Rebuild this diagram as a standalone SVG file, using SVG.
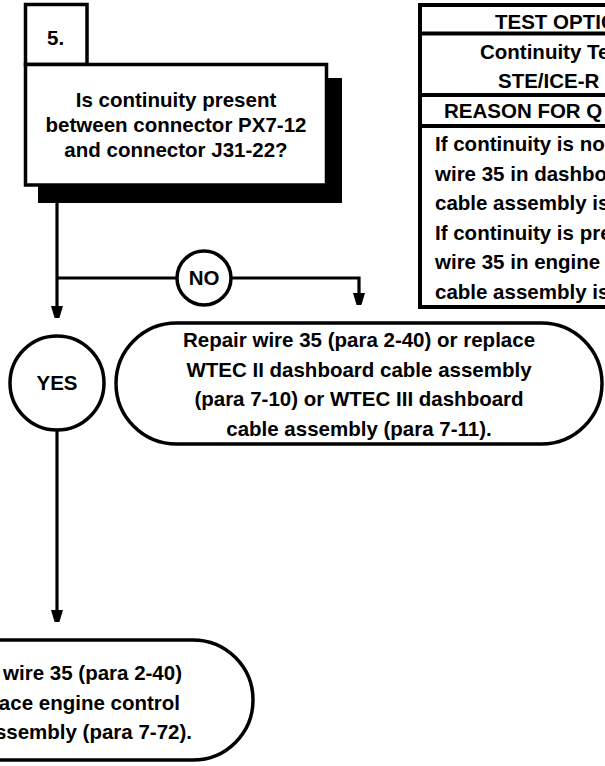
<svg xmlns="http://www.w3.org/2000/svg" width="605" height="766" viewBox="0 0 605 766">
<style>
  text { font-family: "Liberation Sans", Arial, Helvetica, sans-serif; font-weight: bold; font-size: 20.5px; fill: #000; }
  .c { text-anchor: middle; }
  .e { text-anchor: end; }
  .box { fill: #fff; stroke: #000; stroke-width: 3.5; }
  .line { fill: none; stroke: #000; stroke-width: 3.2; }
  .tbl { fill: none; stroke: #000; stroke-width: 4; }
</style>
<defs>
  <marker id="arr" markerUnits="userSpaceOnUse" markerWidth="12" markerHeight="20" viewBox="0 0 12 20" refX="10" refY="6" orient="auto">
    <path d="M0,0 L20,6 L0,12 z" fill="#000"/>
  </marker>
</defs>
<rect width="605" height="766" fill="#fff"/>

<g id="step5">
  <rect class="box" x="25.5" y="4.5" width="61.5" height="60"/>
  <text x="47" y="45">5.</text>
</g>

<g id="question">
  <rect x="38" y="78" width="304" height="125" fill="#000"/>
  <rect class="box" x="25.5" y="64.5" width="301" height="120.5"/>
  <text class="c" x="176" y="107">Is continuity present</text>
  <text class="c" x="176" y="132">between connector PX7-12</text>
  <text class="c" x="176" y="157">and connector J31-22?</text>
</g>

<g id="test-options">
  <path class="tbl" d="M620,5 H420 V307 H620"/>
  <path class="tbl" d="M420,33.5 H620 M420,95 H620 M420,126 H620"/>
  <text x="495" y="29">TEST OPTIC</text>
  <text x="480" y="59">Continuity Te</text>
  <text x="498" y="88">STE/ICE-R</text>
  <text x="444" y="118">REASON FOR Q</text>
  <text x="435" y="151">If continuity is no</text>
  <text x="435" y="180.5">wire 35 in dashbo</text>
  <text x="435" y="210">cable assembly is</text>
  <text x="435" y="239.5">If continuity is pre</text>
  <text x="435" y="269">wire 35 in engine</text>
  <text x="435" y="298.5">cable assembly is</text>
</g>

<g id="connectors">
  <path class="line" d="M57,203 V316" marker-end="url(#arr)"/>
  <path class="line" d="M57,278 H177"/>
  <path class="line" d="M231,278 H359 V303" marker-end="url(#arr)"/>
  <path class="line" d="M57,430 V620" marker-end="url(#arr)"/>
</g>

<g id="no">
  <circle class="box" cx="204" cy="278" r="27"/>
  <text class="c" x="204" y="285">NO</text>
</g>

<g id="yes">
  <circle class="box" cx="57" cy="383" r="47"/>
  <text class="c" x="57" y="390">YES</text>
</g>

<g id="repair-dashboard">
  <rect class="box" x="116" y="323" width="486" height="121" rx="60.5" ry="60.5"/>
  <text class="c" x="359" y="347">Repair wire 35 (para 2-40) or replace</text>
  <text class="c" x="359" y="377">WTEC II dashboard cable assembly</text>
  <text class="c" x="359" y="406">(para 7-10) or WTEC III dashboard</text>
  <text class="c" x="359" y="436">cable assembly (para 7-11).</text>
</g>

<g id="repair-engine">
  <rect class="box" x="-139" y="640" width="392" height="120" rx="60" ry="60"/>
  <text class="e" x="182" y="680">wire 35 (para 2-40)</text>
  <text class="e" x="180" y="710">ace engine control</text>
  <text class="e" x="192" y="739">ssembly (para 7-72).</text>
</g>
</svg>
